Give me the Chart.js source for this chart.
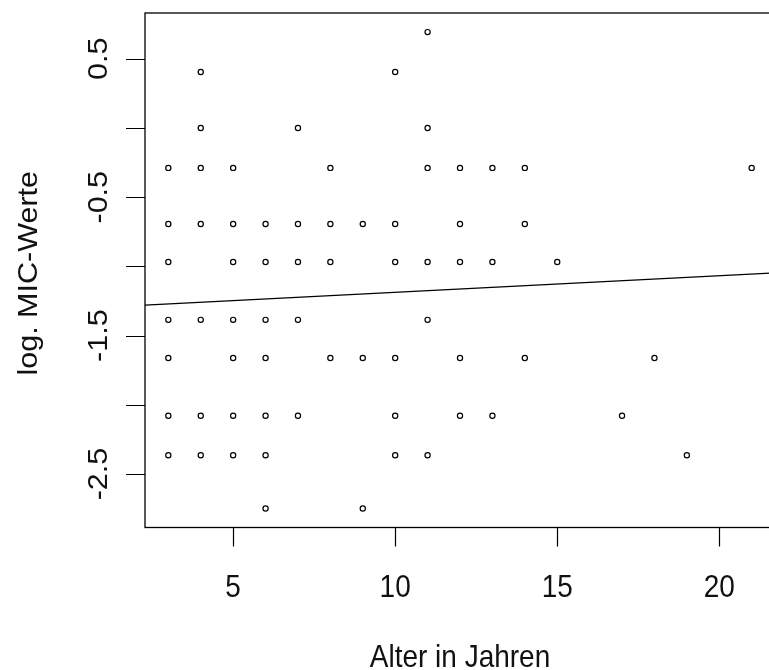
<!DOCTYPE html>
<html>
<head>
<meta charset="utf-8">
<script src="https://cdn.jsdelivr.net/npm/chart.js@4"></script>
<style>
  html, body { margin: 0; padding: 0; background: #fff; }
  #wrap { width: 769px; height: 670px; overflow: hidden; }
</style>
</head>
<body>
<div id="wrap"><canvas id="chart" width="790" height="670"></canvas></div>
<script>
/* ===== DATA ===== */
// log. MIC levels (rows of points) and the ages found on each row
const micLevels = [0.693, 0.405, 0, -0.288, -0.693, -0.968, -1.386, -1.661, -2.079, -2.364, -2.749];
const agesAtLevel = [
  [11],
  [4, 10],
  [4, 7, 11],
  [3, 4, 5, 8, 11, 12, 13, 14, 21],
  [3, 4, 5, 6, 7, 8, 9, 10, 12, 14],
  [3, 5, 6, 7, 8, 10, 11, 12, 13, 15],
  [3, 4, 5, 6, 7, 11],
  [3, 5, 6, 8, 9, 10, 12, 14, 18],
  [3, 4, 5, 6, 7, 10, 12, 13, 17],
  [3, 4, 5, 6, 10, 11, 19],
  [6, 9],
];

// fitted line (abline)
const fitIntercept = -1.307;
const fitSlope = 0.0120;

/* ===== AXES ===== */
const xTicks = [5, 10, 15, 20];
const yTicks = [0.5, 0, -0.5, -1, -1.5, -2, -2.5];
const yTickLabels = ["0.5", "", "-0.5", "", "-1.5", "", "-2.5"];
const xTitle = "Alter in Jahren";
const yTitle = "log. MIC-Werte";

const X_MIN = 2.28, X_MAX = 21.72;
const Y_MIN = -2.886, Y_MAX = 0.831;

/* ===== POINTS ===== */
const points = [];
micLevels.forEach((m, i) => {
  agesAtLevel[i].forEach((a) => points.push({ x: a, y: m }));
});

const linePoints = [X_MIN, X_MAX].map((x) => ({ x, y: fitIntercept + fitSlope * x }));

/* ===== R STYLE FRAME ===== */
const FONT = "28px 'Liberation Sans', Arial, sans-serif";
const STRETCH_Y = 1.09;

function drawText(ctx, text, x, y, rot) {
  ctx.save();
  ctx.translate(x, y);
  ctx.scale(1, STRETCH_Y);
  ctx.rotate(rot);
  ctx.fillText(text, 0, 0);
  ctx.restore();
}

const rFrame = {
  id: "rFrame",
  afterDraw(chart) {
    const ctx = chart.ctx;
    const a = chart.chartArea;
    const xs = chart.scales.x;
    const ys = chart.scales.y;

    ctx.save();
    ctx.strokeStyle = "#000";
    ctx.lineWidth = 1.3;
    ctx.strokeRect(a.left, a.top, a.right - a.left, a.bottom - a.top);

    ctx.lineWidth = 1.2;
    ctx.beginPath();
    xTicks.forEach((t) => {
      const px = Math.round(xs.getPixelForValue(t)) + 0.5;
      ctx.moveTo(px, a.bottom);
      ctx.lineTo(px, a.bottom + 19);
    });
    yTicks.forEach((t) => {
      const py = Math.round(ys.getPixelForValue(t)) + 0.5;
      ctx.moveTo(a.left, py);
      ctx.lineTo(a.left - 19, py);
    });
    ctx.stroke();

    ctx.fillStyle = "#111";
    ctx.font = FONT;
    ctx.textAlign = "center";
    ctx.textBaseline = "alphabetic";

    xTicks.forEach((t) => drawText(ctx, String(t), xs.getPixelForValue(t), a.bottom + 69, 0));
    yTicks.forEach((t, i) => {
      if (yTickLabels[i]) drawText(ctx, yTickLabels[i], a.left - 38, ys.getPixelForValue(t), -Math.PI / 2);
    });

    drawText(ctx, xTitle, (a.left + a.right) / 2, a.bottom + 139, 0);
    drawText(ctx, yTitle, a.left - 108, (a.top + a.bottom) / 2 + 3, -Math.PI / 2);
    ctx.restore();
  },
};

/* ===== CHART ===== */
new Chart(document.getElementById("chart"), {
  type: "scatter",
  data: {
    datasets: [
      {
        data: points,
        pointStyle: "circle",
        pointRadius: 2.6,
        pointBorderWidth: 1.2,
        borderColor: "#000",
        backgroundColor: "rgba(0,0,0,0)",
      },
      {
        type: "line",
        data: linePoints,
        borderColor: "#000",
        borderWidth: 1.4,
        pointRadius: 0,
        fill: false,
      },
    ],
  },
  options: {
    responsive: false,
    animation: false,
    layout: { padding: { left: 145, top: 13, right: 15, bottom: 142.5 } },
    plugins: { legend: { display: false }, tooltip: { enabled: false } },
    scales: {
      x: { type: "linear", min: X_MIN, max: X_MAX, display: false },
      y: { type: "linear", min: Y_MIN, max: Y_MAX, display: false },
    },
  },
  plugins: [rFrame],
});
</script>
</body>
</html>
